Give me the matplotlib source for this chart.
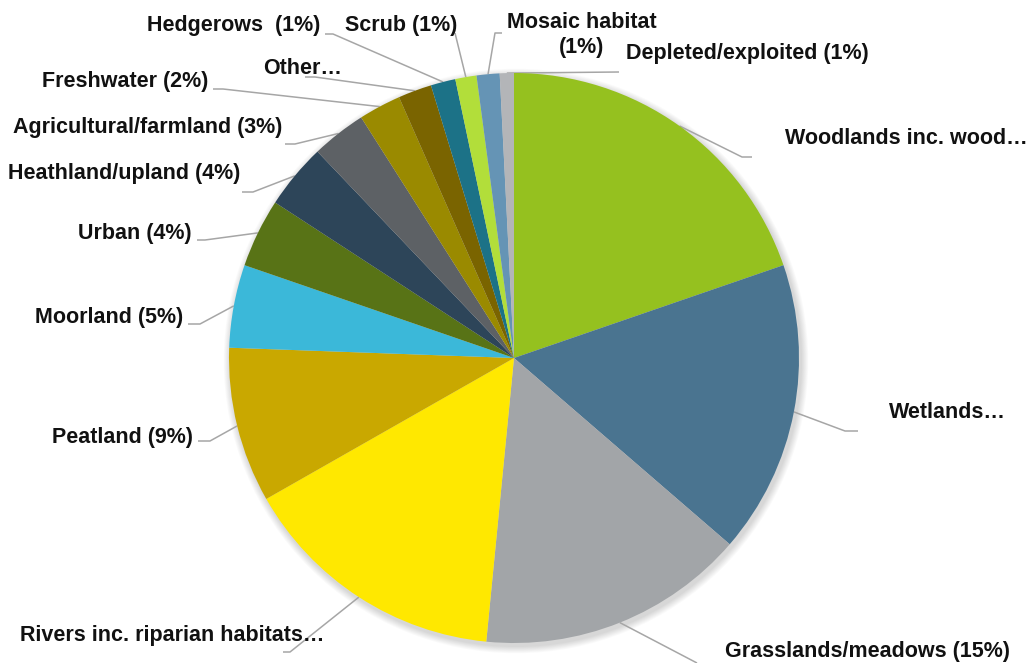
import numpy as np
import matplotlib
matplotlib.use("Agg")
import matplotlib.pyplot as plt
from matplotlib.patches import Circle

# habitat share (%), clockwise from 12 o'clock
habitats = ["Woodlands", "Wetlands", "Grasslands", "Rivers", "Peatland", "Moorland",
            "Urban", "Heathland", "Agricultural", "Freshwater", "Other", "Hedgerows",
            "Scrub", "Mosaic", "Depleted"]
shares = [19.7, 16.6, 15.2, 15.2, 8.8, 4.7, 3.9, 3.7, 3.1, 2.4, 1.9, 1.4, 1.2, 1.3, 0.8]
labels = ["Woodlands inc. wood…", "Wetlands…", "Grasslands/meadows (15%)",
          "Rivers inc. riparian habitats…", "Peatland (9%)", "Moorland (5%)", "Urban (4%)",
          "Heathland/upland (4%)", "Agricultural/farmland (3%)", "Freshwater (2%)", "Other…",
          "Hedgerows  (1%)", "Scrub (1%)", "Mosaic habitat\n(1%)", "Depleted/exploited (1%)"]
colors = ["#95C11F", "#4A7490", "#A2A5A8", "#FFE800", "#C9A800", "#3BB8D9", "#587316",
          "#2D4559", "#5D6165", "#9A8A00", "#7A6400", "#1C7287", "#B2DE3A", "#6594B5",
          "#B3B5B8"]

W, H = 1032, 663
cx, cy, R = 514, 358, 285

# label placement in pixels: text anchor, alignment, leader stub end and elbow
label_pos = [(785, 138, "left"), (889, 413, "left"), (725, 652, "left"), (20, 635, "left"),
             (193, 437, "right"), (183, 318, "right"), (192, 234, "right"),
             (240, 174, "right"), (282, 127, "right"), (208, 82, "right"),
             (342, 68, "right"), (320, 25, "right"), (345, 25, "left"),
             (582, 35, "center"), (626, 53, "left")]
leader = [((752, 157), (742, 157)), ((858, 431), (845, 431)), ((697, 663), (697, 663)),
          ((283, 652), (290, 652)), ((198, 441), (210, 441)), ((188, 324), (200, 324)),
          ((197, 240), (205, 240)), ((242, 192), (253, 192)), ((285, 144), (295, 144)),
          ((213, 89), (223, 89)), ((305, 77), (315, 77)), ((325, 34), (333, 34)),
          ((455, 33), (455, 33)), ((502, 33), (495, 33)), ((619, 72), (619, 72))]

fig = plt.figure(figsize=(W / 100, H / 100), dpi=100)
ax = fig.add_axes([0, 0, 1, 1])

# soft drop shadow under the pie
for i in range(8):
    ax.add_patch(Circle((cx + 2, cy + 3), R + 1 + i * 0.9, color="black",
                        alpha=0.018, lw=0, zorder=0))

wedges, _ = ax.pie(shares, colors=colors, startangle=-90, counterclock=True,
                   center=(cx, cy), radius=R, frame=True,
                   wedgeprops=dict(linewidth=0))
for w in wedges:
    w.set_zorder(2)

ax.set_xlim(0, W)
ax.set_ylim(H, 0)
ax.set_aspect("equal")
ax.axis("off")

for w, text, (tx, ty, ha), (stub, elbow) in zip(wedges, labels, label_pos, leader):
    mid = np.deg2rad((w.theta1 + w.theta2) / 2)
    px, py = cx + R * np.cos(mid), cy + R * np.sin(mid)
    ax.plot([px, elbow[0], stub[0]], [py, elbow[1], stub[1]], color="#A6A6A6",
            lw=1.1, zorder=1, solid_capstyle="butt")
    ax.text(tx, ty, text, ha=ha, va="center", fontsize=15.5, fontweight="bold",
            family="Liberation Sans", color="#111111", linespacing=1.2, zorder=3)

fig.savefig("out.png", dpi=100)
